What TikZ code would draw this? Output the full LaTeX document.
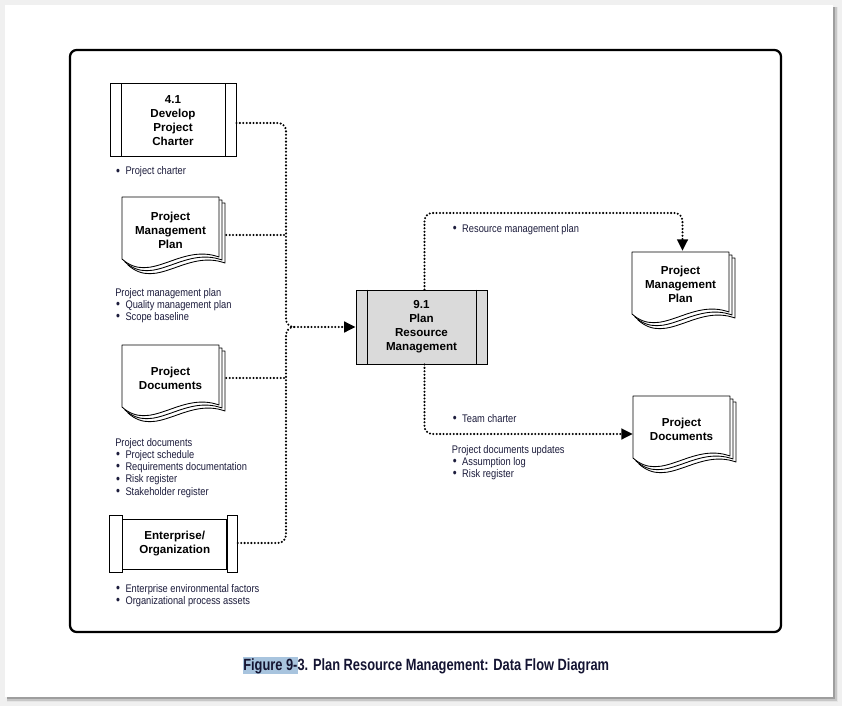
\documentclass[tikz,border=0pt]{standalone}
\usepackage{fontspec}
\setmainfont{Liberation Sans}
\newfontfamily\labfont{Liberation Sans}[FakeStretch=0.84]
\newfontfamily\capfont{Liberation Sans}[FakeStretch=0.79]
\usetikzlibrary{arrows.meta,calc}
\definecolor{labcol}{RGB}{28,28,60}
\definecolor{hl}{RGB}{168,196,222}
\definecolor{procgray}{RGB}{218,218,218}
\definecolor{bgcol}{RGB}{240,240,240}
\newcommand\bitem[1]{\hspace*{0.6pt}\makebox[7.1pt][l]{\raisebox{-0.3pt}{\fontsize{10pt}{10pt}\selectfont\textbullet}}#1}
\newcommand\docpages[2]{%
  \foreach \o in {6,3,0}{%
    \draw[page] ({#1+\o},{#2+\o}) -- ({#1+\o+97},{#2+\o}) -- ({#1+\o+97},{#2+\o+60})
      .. controls ({#1+\o+58},{#2+\o+46}) and ({#1+\o+29},{#2+\o+88}) .. ({#1+\o},{#2+\o+62}) -- cycle;}}
\begin{document}
\begin{tikzpicture}[x=0.75pt,y=-0.75pt,
  flow/.style={line width=1.75pt, dash pattern=on 0pt off 2.55pt, line cap=round, rounded corners=6pt},
  tip/.style={-{Triangle[length=8.5pt,width=8pt]}},
  boxtext/.style={inner sep=0pt, align=center, text=black, font=\bfseries\fontsize{8.7pt}{10.5pt}\selectfont},
  procbox/.style={boxtext, draw, line width=0.75pt},
  page/.style={draw, fill=white, line width=0.65pt, line join=round},
  doctext/.style={boxtext, minimum width=72.75pt, minimum height=46.5pt},
  lab/.style={anchor=base west, inner sep=0pt, text=labcol, font=\labfont\fontsize{8.3pt}{9.2pt}\selectfont},
]
\path[use as bounding box] (0,0) rectangle (842,706);
% page and shadow
\fill[bgcol] (0,0) rectangle (842,706);
\fill[black!10] (7,7) rectangle (838,702);
\fill[black!22] (7,7) rectangle (836.5,700.5);
\fill[black!38] (7,7) rectangle (835,699);
\fill[white] (5,5) rectangle (833,697);
% frame
\draw[line width=1.7pt, rounded corners=5pt] (70,50) rectangle (781,632);

% 4.1 Develop Project Charter
\node[procbox, minimum width=94.5pt, minimum height=54.75pt] (c41) at (173,120.5) {4.1\\Develop\\Project\\Charter};
\draw[line width=0.75pt] ($(c41.north west)+(12,0)$) -- ($(c41.south west)+(12,0)$);
\draw[line width=0.75pt] ($(c41.north east)+(-11,0)$) -- ($(c41.south east)+(-11,0)$);
\node[lab] (l41) at (115,175) {\begin{tabular}[t]{@{}l@{}}\bitem{Project charter}\end{tabular}};

% Project Management Plan (input)
\docpages{122}{197}
\node[doctext] (pmpL) at (170.5,230) {Project\\Management\\Plan};
\node[lab] (lpmp) at (115,296) {\begin{tabular}[t]{@{}l@{}}Project management plan\\\bitem{Quality management plan}\\\bitem{Scope baseline}\end{tabular}};

% Project Documents (input)
\docpages{122}{345}
\node[doctext] (pdL) at (170.5,378) {Project\\Documents};
\node[lab] (lpd) at (115,446) {\begin{tabular}[t]{@{}l@{}}Project documents\\\bitem{Project schedule}\\\bitem{Requirements documentation}\\\bitem{Risk register}\\\bitem{Stakeholder register}\end{tabular}};

% Enterprise/Organization
\node[procbox, minimum width=78pt, minimum height=37.5pt] (ent) at (174.7,544) {Enterprise/\\Organization};
\draw[line width=0.75pt] ($(ent.north west)+(-12.7,-3)$) rectangle ($(ent.south west)+(0,3)$);
\draw[line width=0.75pt] ($(ent.north east)+(0,-3)$) rectangle ($(ent.south east)+(10.6,3)$);
\node[lab] (lent) at (115,592) {\begin{tabular}[t]{@{}l@{}}\bitem{Enterprise environmental factors}\\\bitem{Organizational process assets}\end{tabular}};

% 9.1 Plan Resource Management
\node[procbox, fill=procgray, minimum width=98.25pt, minimum height=55.5pt] (pr) at (421.5,327) {9.1\\Plan\\Resource\\Management};
\draw[line width=0.75pt] ($(pr.north west)+(12,0)$) -- ($(pr.south west)+(12,0)$);
\draw[line width=0.75pt] ($(pr.north east)+(-11,0)$) -- ($(pr.south east)+(-11,0)$);

% outputs
\docpages{632}{252}
\node[doctext] (pmpR) at (680.5,284) {Project\\Management\\Plan};
\docpages{633}{396}
\node[doctext] (pdR) at (681.5,429) {Project\\Documents};

\node[lab] (lrmp) at (451.7,232) {\begin{tabular}[t]{@{}l@{}}\bitem{Resource management plan}\end{tabular}};
\node[lab] (ltc) at (451.7,422) {\begin{tabular}[t]{@{}l@{}}\bitem{Team charter}\end{tabular}};
\node[lab] (lpdu) at (451.7,453) {\begin{tabular}[t]{@{}l@{}}Project documents updates\\\bitem{Assumption log}\\\bitem{Risk register}\end{tabular}};

% connectors (inputs)
\coordinate (jn) at (286,327);
\coordinate (o41) at ($(c41.east)+(0,2.5)$);
\coordinate (opmp) at ($(pmpL.east)+(7,5)$);
\coordinate (opd) at ($(pdL.east)+(7,0)$);
\coordinate (oent) at ($(ent.east)+(10.6,-1)$);
\draw[flow,tip] (o41) -| (jn) -- (pr.west);
\draw[flow] (oent) -| (jn) -- ($(jn)+(9,0)$);
\draw[flow] (opmp) -- (opmp -| jn);
\draw[flow] (opd) -- (opd -| jn);

% connectors (outputs)
\coordinate (lvl) at (0,213);
\coordinate (pmparr) at ($(pmpR.north)+(2,-2)$);
\coordinate (pdarr) at ($(pdR.west)+(0,5)$);
\draw[flow,tip] ($(pr.north)+(3,0)$) |- (pmparr |- lvl) -- (pmparr);
\draw[flow,tip] ($(pr.south)+(3,0)$) |- (pdarr);

% caption
\node[anchor=base west, inner sep=0pt, text={rgb,255:red,20;green,20;blue,50}, font=\capfont\bfseries\fontsize{12.2pt}{14pt}\selectfont] (cap) at (243,670.7)
  {{\setlength\fboxsep{0pt}\colorbox{hl}{\rule[-1.7pt]{0pt}{12pt}Figure 9-}}3. Plan Resource Management: Data Flow Diagram};
\end{tikzpicture}
\end{document}
